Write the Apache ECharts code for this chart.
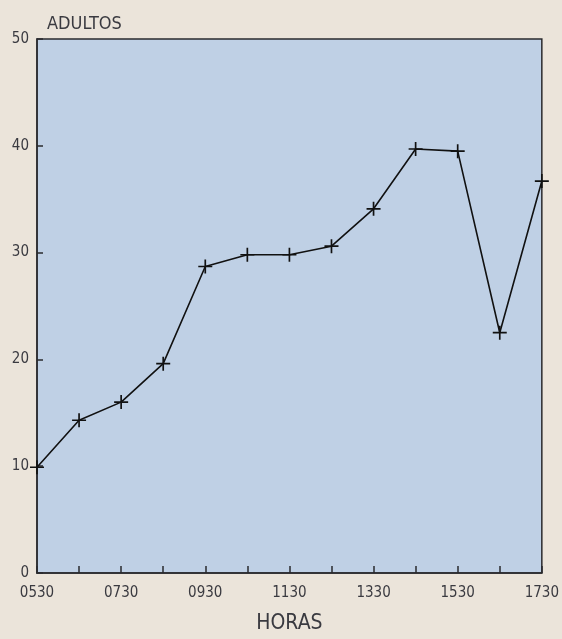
<!DOCTYPE html>
<html>
<head>
<meta charset="utf-8">
<style>
  html, body { margin: 0; padding: 0; background: #ebe4da; }
  #chart { width: 562px; height: 639px; }
</style>
<script src="https://cdn.jsdelivr.net/npm/echarts@6/dist/echarts.min.js"></script>
</head>
<body>
<div id="chart"></div>
<script>
// horas de muestreo
var horas = ['0530', '0630', '0730', '0830', '0930', '1030', '1130',
  '1230', '1330', '1430', '1530', '1630', '1730'];
// adultos capturados
var adultos = [9.9, 14.3, 16.0, 19.6, 28.7, 29.8, 29.8, 30.6, 34.1, 39.7, 39.5, 22.5, 36.7];
var yTicks = [0, 10, 20, 30, 40, 50];

var chart = echarts.init(document.getElementById('chart'));
var ink = '#2a2a2e';
var font = '"DejaVu Sans Condensed", "DejaVu Sans", sans-serif';

chart.setOption({
  backgroundColor: '#ebe4da',
  animation: false,
  title: {
    text: 'ADULTOS',
    left: 42,
    top: 10,
    textStyle: { fontFamily: font, fontWeight: 'normal', fontSize: 18, color: '#3a3a40' },
  },
  grid: {
    left: 37,
    right: 19,
    top: 39,
    bottom: 64,
    show: true,
    backgroundColor: '#bfd0e5',
    borderColor: ink,
    borderWidth: 1.5,
  },
  xAxis: {
    type: 'category',
    data: horas,
    boundaryGap: false,
    name: 'HORAS',
    nameLocation: 'middle',
    nameGap: 40,
    nameTextStyle: { fontFamily: font, fontSize: 21, color: '#3a3a40' },
    axisLine: { lineStyle: { color: ink, width: 1.5 } },
    axisTick: {
      inside: true,
      length: 7,
      interval: 0,
      lineStyle: { color: ink, width: 1.5 },
    },
    axisLabel: {
      interval: 1,
      margin: 13,
      fontFamily: font,
      fontSize: 15,
      color: '#3a3a40',
    },
    splitLine: { show: false },
  },
  yAxis: {
    type: 'value',
    min: yTicks[0],
    max: yTicks[yTicks.length - 1],
    interval: 10,
    axisLine: { show: true, lineStyle: { color: ink, width: 1.5 } },
    axisTick: {
      show: true,
      inside: true,
      length: 6,
      lineStyle: { color: ink, width: 1.5 },
    },
    axisLabel: {
      margin: 8,
      fontFamily: font,
      fontSize: 15,
      color: '#3a3a40',
    },
    splitLine: { show: false },
  },
  series: [
    {
      type: 'line',
      data: adultos,
      symbol: 'path://M0,4.4H10V5.6H0Z M4.4,0H5.6V10H4.4Z',
      symbolSize: 14,
      itemStyle: { color: '#111' },
      lineStyle: { color: '#111', width: 1.6 },
    },
  ],
});
</script>
</body>
</html>
